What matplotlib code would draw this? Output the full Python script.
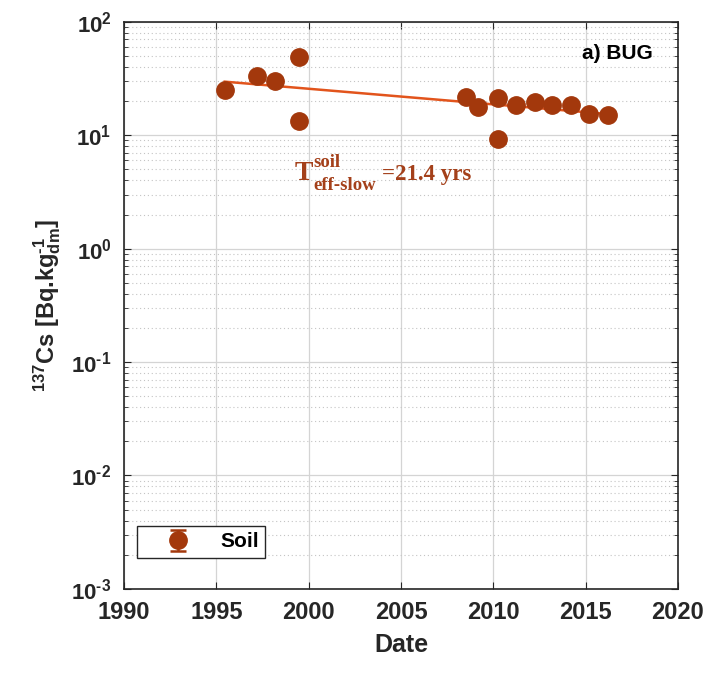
import matplotlib
matplotlib.use('Agg')
from matplotlib import pyplot as plt
from matplotlib.ticker import LogLocator, FuncFormatter, NullFormatter
import math as m

plt.rcParams['font.family'] = ['Liberation Sans', 'DejaVu Sans']
plt.rcParams['font.weight'] = 'bold'
plt.rcParams['mathtext.fontset'] = 'custom'
plt.rcParams['mathtext.rm'] = 'Liberation Sans:bold'
plt.rcParams['mathtext.it'] = 'Liberation Sans:bold'
plt.rcParams['mathtext.bf'] = 'Liberation Sans:bold'
plt.rcParams['mathtext.default'] = 'rm'

# soil samples, BUG site
years = [1995.45, 1997.2, 1998.2, 1999.5, 1999.5, 2008.5, 2009.2, 2010.25, 2010.25,
         2011.25, 2012.25, 2013.2, 2014.2, 2015.2, 2016.2]
soil = [25.1, 33.0, 30.3, 48.9, 13.4, 21.9, 17.8, 21.1, 9.2,
        18.6, 19.8, 18.5, 18.5, 15.4, 15.1]
soil_err = [1.5, 2.0, 1.8, 3.0, 0.8, 1.3, 1.1, 1.3, 0.6,
            1.1, 1.2, 1.1, 1.1, 0.9, 0.9]

# slow effective half-life fit (T = 21.4 yrs)
fit_years = [1995.45, 2016.2]
fit_vals = [29.7, 15.4]

dot_col = '#A3380C'
line_col = '#E2541C'
txt_col = '#A4401A'
dark = '#262626'
HY = '\u2010'  # short hyphen instead of the wide minus


def dec_fmt(v, pos):
    e = int(round(m.log10(v)))
    return r'$10^{%s}$' % str(e).replace('-', HY)


fig = plt.figure(figsize=(7.09, 6.73), dpi=100)
ax = fig.add_axes([0.175, 0.125, 0.781, 0.8425])

ax.errorbar(years, soil, yerr=soil_err, fmt='o', color=dot_col, ms=12.5,
            capsize=6, elinewidth=1.8, capthick=1.8, label='Soil', zorder=3)
ax.plot(fit_years, fit_vals, '-', color=line_col, lw=1.8, zorder=2)

ax.set_yscale('log')
ax.set_ylim(1e-3, 1e2)
ax.set_xlim(1990, 2020)
ax.set_xticks(range(1990, 2021, 5))
ax.yaxis.set_major_locator(LogLocator(base=10, numticks=10))
ax.yaxis.set_major_formatter(FuncFormatter(dec_fmt))
ax.yaxis.set_minor_locator(LogLocator(base=10, subs=range(2, 10), numticks=20))
ax.yaxis.set_minor_formatter(NullFormatter())

ax.grid(which='major', color='#d4d4d4', lw=0.9, ls='-')
ax.grid(which='minor', axis='y', color='#c4c4c4', lw=0.8, ls=(0, (1, 2.5)))
ax.set_axisbelow(True)

ax.tick_params(which='both', direction='in', top=True, right=True, colors=dark)
ax.tick_params(which='major', length=5, pad=9)
ax.tick_params(axis='x', labelsize=17)
ax.tick_params(axis='y', labelsize=16)
ax.tick_params(which='minor', length=3)
for sp in ax.spines.values():
    sp.set_color(dark)
    sp.set_linewidth(1.2)
for lab in ax.get_xticklabels():
    lab.set_fontweight('bold')

ax.set_xlabel('Date', fontsize=18, fontweight='bold', color=dark, labelpad=6)
ax.set_ylabel(r'$^{137}$Cs [Bq.kg$^{%s1}_{dm}$]' % HY, fontsize=17,
              fontweight='bold', color=dark, labelpad=6)

ax.text(0.955, 0.945, 'a) BUG', transform=ax.transAxes, ha='right', va='center',
        fontsize=15, fontweight='bold', color='black')

# half-life annotation
serif = ['Liberation Serif', 'DejaVu Serif']
anchor = (1999.26, 4.05)
pieces = [('T', 20, (0, 0)), ('soil', 13.5, (13, 9.4)),
          ('eff-slow', 13.5, (13, -7.5)), ('=21.4 yrs', 16.5, (62.5, 0))]
for s, fs, off in pieces:
    ax.annotate(s, anchor, xytext=off, textcoords='offset points', fontsize=fs,
                family=serif, fontweight='bold', color=txt_col,
                ha='left', va='baseline')

leg = ax.legend(loc='lower left', bbox_to_anchor=(0.023, 0.055), fancybox=False,
                edgecolor=dark, framealpha=1, fontsize=15, handlelength=3.36,
                borderpad=0.3, handletextpad=0.34, borderaxespad=0)
leg.get_frame().set_linewidth(1.0)
for t in leg.get_texts():
    t.set_fontweight('bold')

fig.savefig('out.png', dpi=100, facecolor='white')
